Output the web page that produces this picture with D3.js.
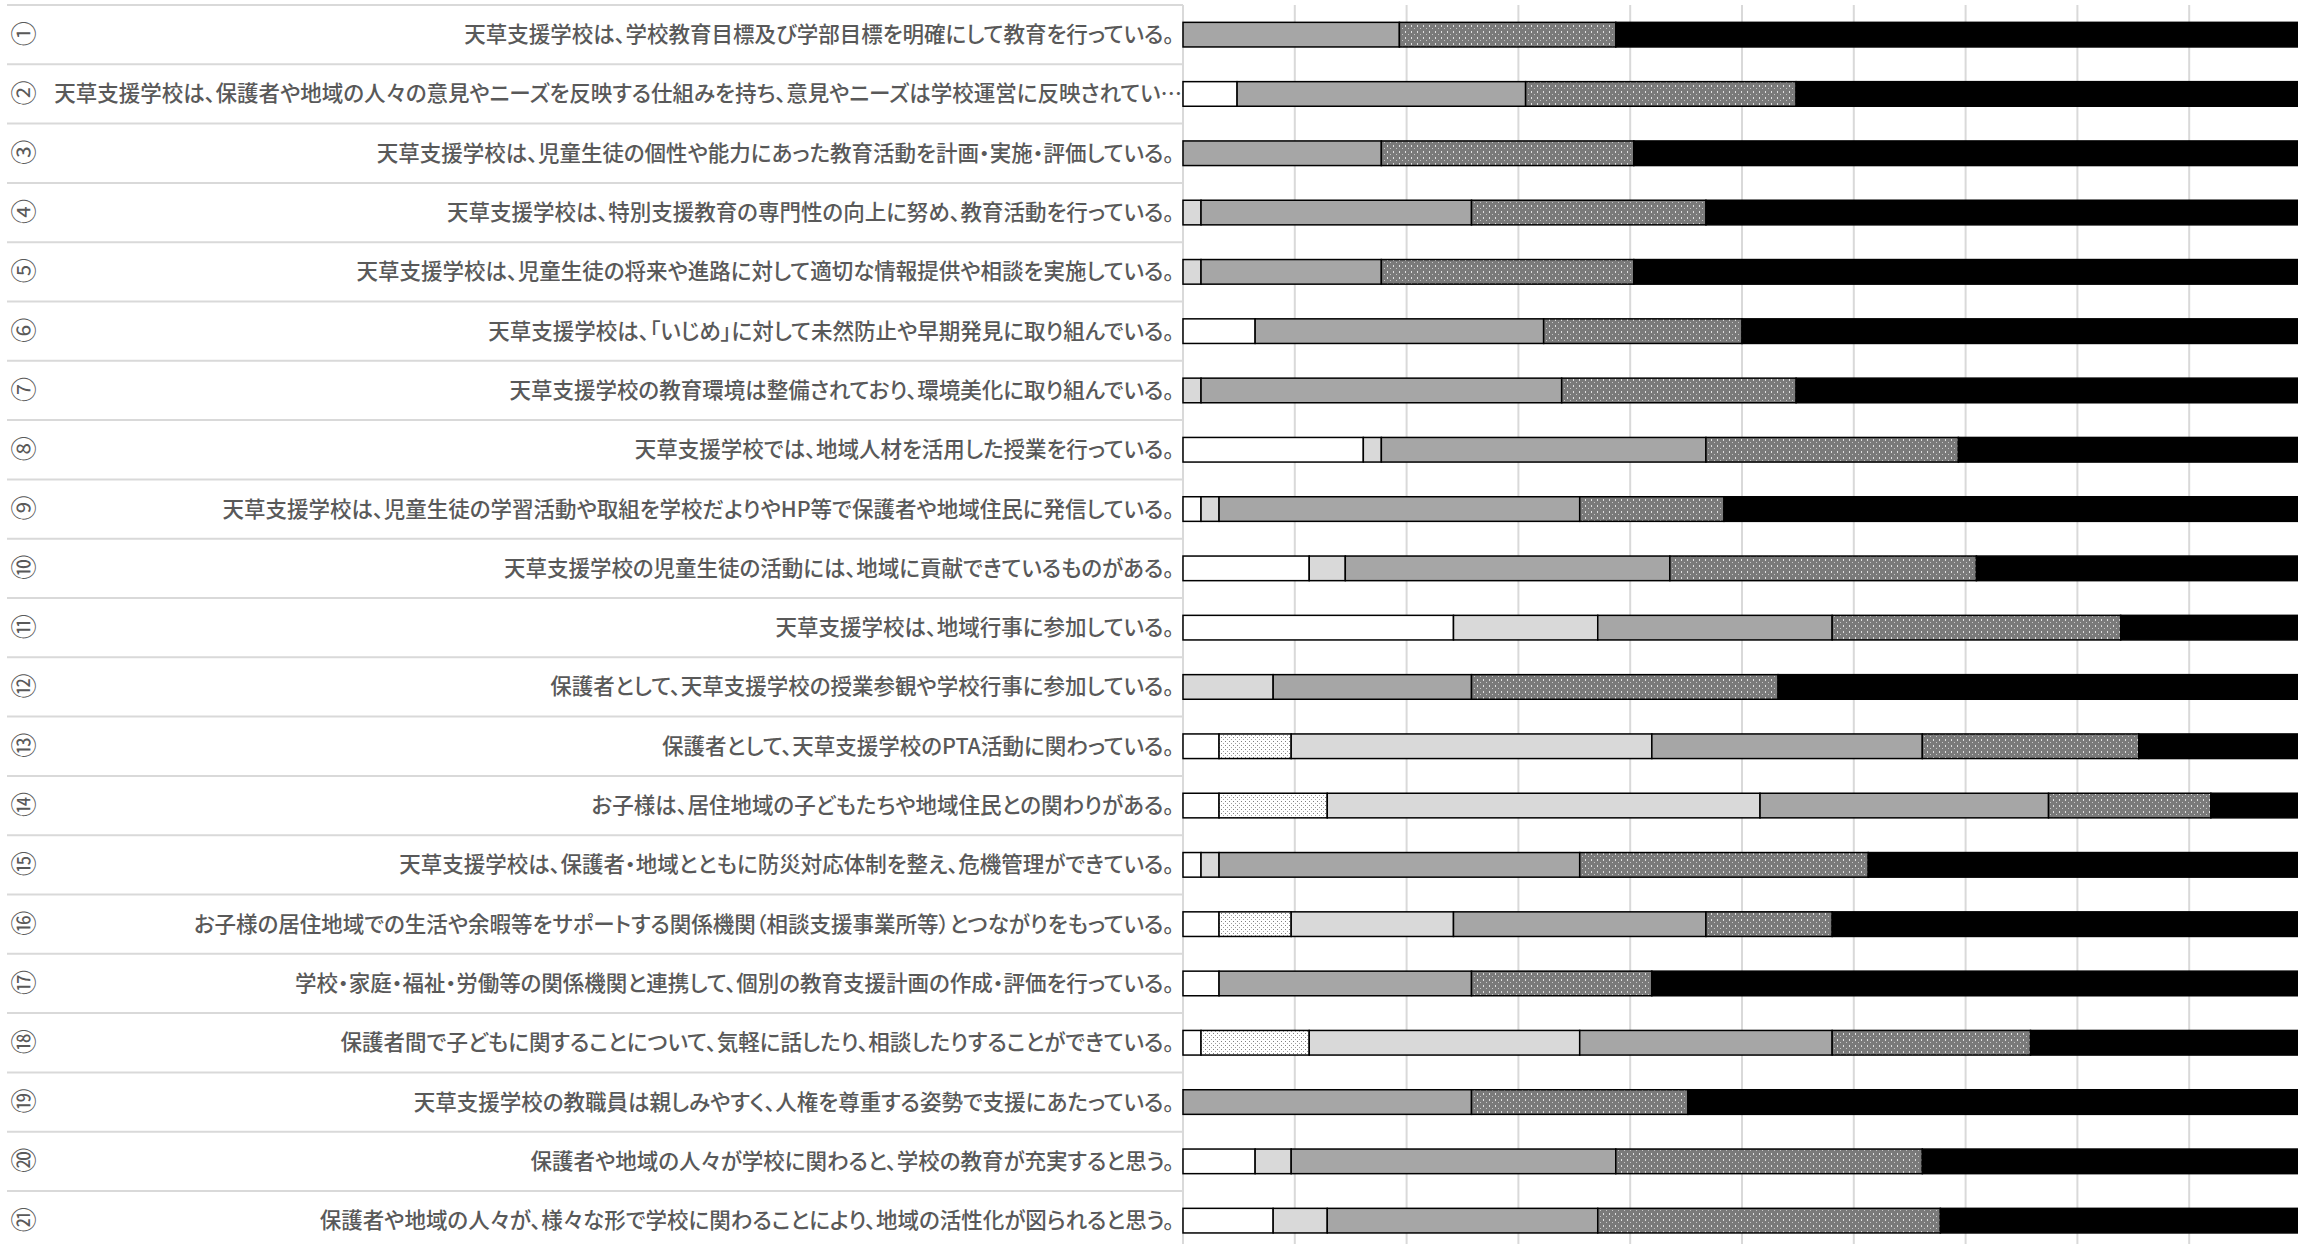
<!DOCTYPE html>
<html>
<head>
<meta charset="utf-8">
<script src="https://cdn.jsdelivr.net/npm/d3@7"></script>
<style>
  body { margin: 0; background: #fff; }
  text { font-family: "Noto Sans CJK JP", sans-serif; }
  text.lbl { font-feature-settings: "palt"; }
</style>
</head>
<body>
<div class="canvas"></div>
<script>
const rowNumbers = ['①','②','③','④','⑤','⑥','⑦','⑧','⑨','⑩','⑪','⑫','⑬','⑭','⑮','⑯','⑰','⑱','⑲','⑳','㉑'];

const rowLabels = [
  '天草支援学校は、学校教育目標及び学部目標を明確にして教育を行っている。',
  '天草支援学校は、保護者や地域の人々の意見やニーズを反映する仕組みを持ち、意見やニーズは学校運営に反映されている。',
  '天草支援学校は、児童生徒の個性や能力にあった教育活動を計画・実施・評価している。',
  '天草支援学校は、特別支援教育の専門性の向上に努め、教育活動を行っている。',
  '天草支援学校は、児童生徒の将来や進路に対して適切な情報提供や相談を実施している。',
  '天草支援学校は、「いじめ」に対して未然防止や早期発見に取り組んでいる。',
  '天草支援学校の教育環境は整備されており、環境美化に取り組んでいる。',
  '天草支援学校では、地域人材を活用した授業を行っている。',
  '天草支援学校は、児童生徒の学習活動や取組を学校だよりやHP等で保護者や地域住民に発信している。',
  '天草支援学校の児童生徒の活動には、地域に貢献できているものがある。',
  '天草支援学校は、地域行事に参加している。',
  '保護者として、天草支援学校の授業参観や学校行事に参加している。',
  '保護者として、天草支援学校のPTA活動に関わっている。',
  'お子様は、居住地域の子どもたちや地域住民との関わりがある。',
  '天草支援学校は、保護者・地域とともに防災対応体制を整え、危機管理ができている。',
  'お子様の居住地域での生活や余暇等をサポートする関係機関（相談支援事業所等）とつながりをもっている。',
  '学校・家庭・福祉・労働等の関係機関と連携して、個別の教育支援計画の作成・評価を行っている。',
  '保護者間で子どもに関することについて、気軽に話したり、相談したりすることができている。',
  '天草支援学校の教職員は親しみやすく、人権を尊重する姿勢で支援にあたっている。',
  '保護者や地域の人々が学校に関わると、学校の教育が充実すると思う。',
  '保護者や地域の人々が、様々な形で学校に関わることにより、地域の活性化が図られると思う。'
];

// answer counts per question (62 respondents)
const noAnswer        = [0, 3, 0, 0, 0, 4, 0, 10, 1, 7, 15, 0, 2, 2, 1, 2, 2, 1, 0, 4, 5];
const unknown         = [0, 0, 0, 0, 0, 0, 0, 0, 0, 0, 0, 0, 4, 6, 0, 4, 0, 6, 0, 0, 0];
const disagree        = [0, 0, 0, 1, 1, 0, 1, 1, 1, 2, 8, 5, 20, 24, 1, 9, 0, 15, 0, 2, 3];
const somewhatDisagree= [12, 16, 11, 15, 10, 16, 20, 18, 20, 18, 13, 11, 15, 16, 20, 14, 14, 14, 16, 18, 15];
const somewhatAgree   = [12, 15, 14, 13, 14, 11, 13, 14, 8, 17, 16, 17, 12, 9, 16, 7, 10, 11, 12, 17, 19];
const agree           = [38, 28, 37, 33, 37, 31, 28, 19, 32, 18, 10, 29, 9, 5, 24, 26, 36, 15, 34, 21, 20];

const xTicks = [0, 0.1, 0.2, 0.3, 0.4, 0.5, 0.6, 0.7, 0.8, 0.9, 1];

const keys = ['noAnswer', 'unknown', 'disagree', 'somewhatDisagree', 'somewhatAgree', 'agree'];
const seriesByKey = { noAnswer, unknown, disagree, somewhatDisagree, somewhatAgree, agree };

const rows = rowLabels.map((label, i) => {
    const row = { label, num: rowNumbers[i] };
    keys.forEach(k => row[k] = seriesByKey[k][i]);
    return row;
});

const dims = { width: 2298, height: 1244 };
const plot = { left: 1183, right: 2301, top: 5, rowH: 59.3 };

const svg = d3.select('.canvas')
    .append('svg')
    .attr('width', dims.width)
    .attr('height', dims.height);

const defs = svg.append('defs');

// fine light dots
const p1 = defs.append('pattern')
    .attr('id', 'lightDots')
    .attr('patternUnits', 'userSpaceOnUse')
    .attr('width', 4).attr('height', 4);
p1.append('rect').attr('width', 4).attr('height', 4).attr('fill', '#fff');
p1.append('rect').attr('x', 1).attr('y', 1).attr('width', 1).attr('height', 1).attr('fill', '#808080');
p1.append('rect').attr('x', 3).attr('y', 3).attr('width', 1).attr('height', 1).attr('fill', '#a0a0a0');

// dark gray with pale dots
const p2 = defs.append('pattern')
    .attr('id', 'darkDots')
    .attr('patternUnits', 'userSpaceOnUse')
    .attr('width', 6).attr('height', 6);
p2.append('rect').attr('width', 6).attr('height', 6).attr('fill', '#7a7a7a');
p2.append('rect').attr('x', 1).attr('y', 1).attr('width', 1).attr('height', 2).attr('fill', '#e0e0e0');
p2.append('rect').attr('x', 4).attr('y', 4).attr('width', 1).attr('height', 1).attr('fill', '#c8c8c8');

const fills = {
    noAnswer: '#ffffff',
    unknown: 'url(#lightDots)',
    disagree: '#d9d9d9',
    somewhatDisagree: '#a6a6a6',
    somewhatAgree: 'url(#darkDots)',
    agree: '#000000'
};

const y = d3.scaleBand()
    .domain(d3.range(rows.length))
    .range([plot.top, plot.top + plot.rowH * rows.length]);

const x = d3.scaleLinear()
    .domain([0, 1])
    .range([plot.left, plot.right]);

// vertical grid
svg.append('g')
    .selectAll('line')
    .data(xTicks)
    .enter()
    .append('line')
        .attr('x1', d => x(d)).attr('x2', d => x(d))
        .attr('y1', plot.top).attr('y2', dims.height)
        .attr('stroke', '#d9d9d9')
        .attr('stroke-width', 2);

// row separators in label area
svg.append('g')
    .selectAll('line')
    .data(d3.range(rows.length + 1))
    .enter()
    .append('line')
        .attr('x1', 7).attr('x2', plot.left)
        .attr('y1', i => plot.top + i * plot.rowH)
        .attr('y2', i => plot.top + i * plot.rowH)
        .attr('stroke', '#d9d9d9')
        .attr('stroke-width', 2);

// labels
const labels = svg.append('g');

labels.selectAll('text.num')
    .data(rows)
    .enter()
    .append('text')
        .attr('class', 'num')
        .attr('transform', (d, i) => `translate(22, ${y(i) + y.bandwidth() / 2 - 1}) rotate(-90)`)
        .attr('text-anchor', 'middle')
        .attr('dominant-baseline', 'central')
        .attr('font-size', 25)
        .attr('fill', '#595959')
        .text(d => d.num);

const labelRight = 1174;
const labelLeft = 50;

labels.selectAll('text.lbl')
    .data(rows)
    .enter()
    .append('text')
        .attr('class', 'lbl')
        .attr('x', labelRight)
        .attr('y', (d, i) => y(i) + y.bandwidth() / 2 - 2)
        .attr('text-anchor', 'end')
        .attr('dominant-baseline', 'central')
        .attr('font-size', 21.5)
        .attr('font-weight', 500)
        .attr('fill', '#595959')
        .text(d => d.label)
        .each(function (d) {
            const el = d3.select(this);
            let t = d.label;
            const maxW = plot.left - 1 - labelLeft;
            if (this.getComputedTextLength() > maxW) {
                while (this.getComputedTextLength() > maxW && t.length > 1) {
                    t = t.slice(0, -1);
                    el.text(t + '…');
                }
                el.attr('x', plot.left - 1);
            }
        });

// stacked bars
const stack = d3.stack()
    .keys(keys)
    .offset(d3.stackOffsetExpand);

const stacked = stack(rows);

const barH = plot.rowH * 0.415;

svg.append('g')
    .selectAll('g')
    .data(stacked)
    .enter()
    .append('g')
        .attr('fill', d => fills[d.key])
    .selectAll('rect')
    .data(d => d.map((v, i) => ({ v, i })))
    .enter()
    .filter(d => d.v[1] - d.v[0] > 0)
    .append('rect')
        .attr('x', d => x(d.v[0]))
        .attr('width', d => x(d.v[1]) - x(d.v[0]))
        .attr('y', d => y(d.i) + (y.bandwidth() - barH) / 2)
        .attr('height', barH)
        .attr('stroke', '#000')
        .attr('stroke-width', 1.5);
</script>
</body>
</html>
